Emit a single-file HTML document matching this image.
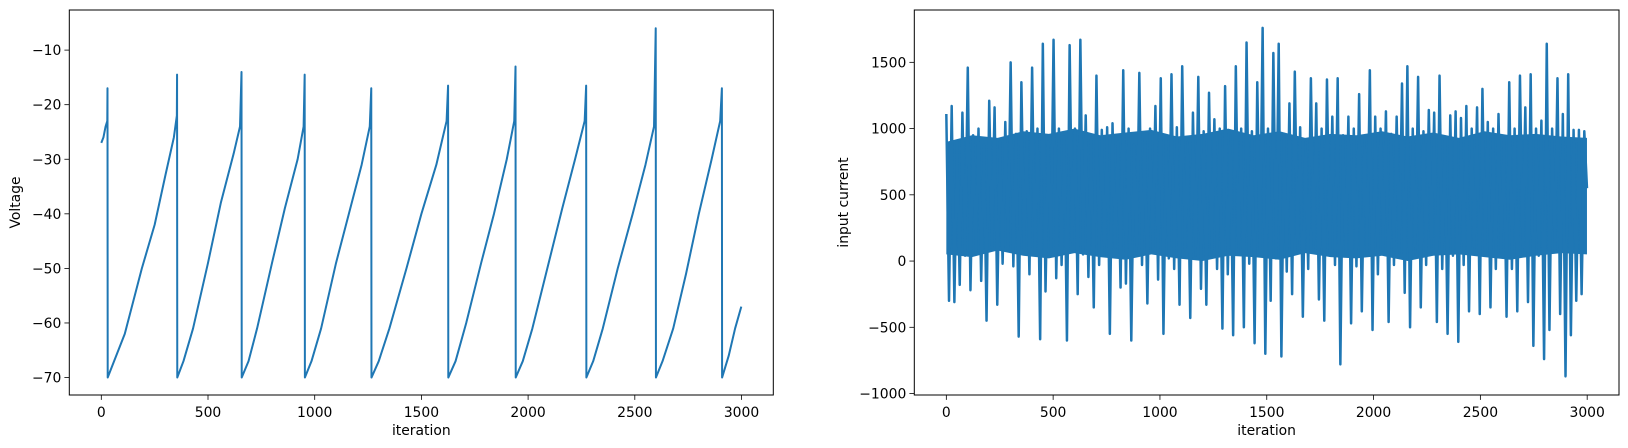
<!DOCTYPE html>
<html><head><meta charset="utf-8"><style>
html,body{margin:0;padding:0;background:#fff;}
svg{display:block;font-family:"DejaVu Sans","Liberation Sans",sans-serif;}
</style></head><body>
<svg id="fig" width="1628" height="448" viewBox="0 0 1628 448" xmlns="http://www.w3.org/2000/svg"></svg>
<script>
// ---- Left chart data (voltage vertices) ----
const vIter = [0,10,20,28,29,30,60,110,190,250,300,340,354,355,356,385,430,500,560,620,650,657,658,690,730,800,860,920,948,953,954,985,1030,1100,1160,1220,1258,1265,1266,1300,1350,1430,1500,1570,1618,1625,1626,1660,1710,1780,1840,1900,1935,1941,1942,1975,2020,2090,2160,2220,2265,2272,2273,2305,2350,2420,2490,2550,2590,2598,2599,2630,2680,2740,2800,2860,2900,2908,2909,2940,2970,2999];
const vVolt = [-27,-26,-24,-23,-17,-70,-67,-62,-50,-42,-33,-26,-22,-14.5,-70,-67,-61,-49,-38,-29,-24,-14,-70,-67,-61,-49,-39,-30,-24,-14.5,-70,-67,-61,-49,-40,-31,-24,-17,-70,-67,-61,-50,-40,-31,-23,-16.5,-70,-67,-60,-49,-40,-30,-23,-13,-70,-67,-61,-50,-39,-30,-23,-16.5,-70,-67,-61,-50,-40,-31,-24,-6,-70,-67,-61,-51,-40,-30,-23,-17,-70,-66,-61,-57];
const leftYTicks = [-70,-60,-50,-40,-30,-20,-10];
const xTicks = [0,500,1000,1500,2000,2500,3000];
// ---- Right chart data (input current samples, extremes) ----
const current = [
1110,-300,1170,-310,900,-180,1120,40,1460,-220,950,60,1000,-150,880,-450,1210,100,1160,-330,900,-20,1050,80,
1500,-40,960,-570,1350,90,980,-100,1460,60,1000,-590,1640,-230,900,50,1670,-130,1000,-30,940,-600,1630,120,
1000,-250,1670,50,1100,-120,920,-350,1400,-30,990,40,1010,-550,1040,100,900,-200,1440,-170,1000,-600,880,60,
1420,-30,960,-320,1000,80,1170,-140,1380,-550,930,20,1410,-60,1010,-330,1470,90,900,-430,1120,40,1390,-210,
980,-330,1270,60,1070,-60,1000,-510,1320,-100,950,-560,1470,50,1000,-500,1650,-20,980,-620,1350,70,1760,-700,
1000,-300,1570,20,1640,-720,960,-80,1190,-250,1430,70,1010,-420,900,-60,1380,80,1190,-290,1000,-450,1370,40,
1090,-30,1380,-780,950,60,1090,-470,1000,-40,1260,-380,920,40,1440,-520,1090,-100,1000,80,1130,-460,960,-30,
1090,60,1340,-240,1470,-500,1000,50,1390,-350,980,-30,1140,70,1120,-460,1400,-60,940,-550,1100,40,1130,-610,
1080,-30,1170,-380,1000,60,1160,-400,1300,50,1050,-350,1000,-60,1110,70,920,-420,1350,-60,1000,-380,1400,60,
1160,-310,1410,-640,1000,40,1060,-740,1640,-520,1000,80,1380,-400,1110,-870,1410,-560,990,-300,990,-250,980,550];
// ---- Dense core envelope of the current trace (every 120 iterations) ----
const coreHigh = [900,950,930,980,960,1000,950,970,990,940,960,1000,950,980,930,960,950,980,940,970,930,980,950,960,940,930];
const coreLow = [50,30,80,40,20,60,30,10,50,20,0,40,30,10,60,30,20,40,0,40,50,30,10,40,60,50];
const rightYTicks = [-1000,-500,0,500,1000,1500];

const NS='http://www.w3.org/2000/svg';
const svg=document.getElementById('fig');
function mk(tag,attrs,parent){const e=document.createElementNS(NS,tag);for(const k in attrs)e.setAttribute(k,attrs[k]);(parent||svg).appendChild(e);return e;}

function drawChart(cfg){
  const g=mk('g',{});
  
  
  const L=cfg.left,R=cfg.right,T=10,B=395;
  const sx=v=>L+(v-cfg.xmin)/(cfg.xmax-cfg.xmin)*(R-L);
  const sy=v=>B-(v-cfg.ymin)/(cfg.ymax-cfg.ymin)*(B-T);
  if(cfg.band){
    const n=cfg.band.hi.length;const bx=i=>i*2999/(n-1);
    let bd='';
    for(let i=0;i<n;i++)bd+=(i?'L':'M')+sx(bx(i)).toFixed(2)+' '+sy(cfg.band.hi[i]).toFixed(2);
    for(let i=n-1;i>=0;i--)bd+='L'+sx(bx(i)).toFixed(2)+' '+sy(cfg.band.lo[i]).toFixed(2);
    const b=mk('path',{d:bd+'Z',fill:'#1f77b4',stroke:'none'},g);
    
    
  }
  let d='';
  for(let i=0;i<cfg.xs.length;i++){d+=(i?'L':'M')+sx(cfg.xs[i]).toFixed(2)+' '+sy(cfg.ys[i]).toFixed(2);}
  const p=mk('path',{d:d,fill:'none',stroke:'#1f77b4','stroke-width':cfg.lw,'stroke-linejoin':'round'},g);
  
  
  const f=mk('rect',{x:L,y:T,width:R-L,height:B-T,fill:'none',stroke:'#000','stroke-width':1},g);
  
  
  xTicks.forEach(t=>{
    const x=sx(t);
    mk('line',{x1:x,x2:x,y1:B,y2:B+4.9,stroke:'#000','stroke-width':0.8},g);
    const tx=mk('text',{x:x,y:B+22,'font-size':13.9,'text-anchor':'middle',fill:'#000'},g);
    tx.textContent=String(t);
    
    
  });
  cfg.yTicks.forEach(t=>{
    const y=sy(t);
    mk('line',{x1:L-4.9,x2:L,y1:y,y2:y,stroke:'#000','stroke-width':0.8},g);
    const tx=mk('text',{x:L-8,y:y+5,'font-size':13.9,'text-anchor':'end',fill:'#000'},g);
    tx.textContent=String(t).replace('-','\u2212');
    
    
  });
  const xl=mk('text',{x:(L+R)/2,y:435,'font-size':13.9,'text-anchor':'middle',fill:'#000'},g);
  xl.textContent='iteration';
  
  
  const cy=(T+B)/2;
  const yl=mk('text',{x:cfg.ylabX,y:cy,'font-size':13.9,'text-anchor':'middle',fill:'#000',transform:'rotate(-90 '+cfg.ylabX+' '+cy+')'},g);
  yl.textContent=cfg.ylabel;
  
  
}

drawChart({name:'voltage-chart',left:69.3,right:773.3,xmin:-149.95,xmax:3148.95,ymin:-73.2,ymax:-2.65,
  xs:vIter,ys:vVolt,yTicks:leftYTicks,ylabel:'Voltage',ylabX:20,lw:2});
const ci=current.map((v,i)=>i*2999/(current.length-1));
drawChart({name:'current-chart',left:914.3,right:1619,xmin:-149.95,xmax:3148.95,ymin:-1011,ymax:1895,
  xs:ci,ys:current,yTicks:rightYTicks,ylabel:'input current',ylabX:848,lw:2.5,
  band:{hi:coreHigh,lo:coreLow}});
</script>
</body></html>
